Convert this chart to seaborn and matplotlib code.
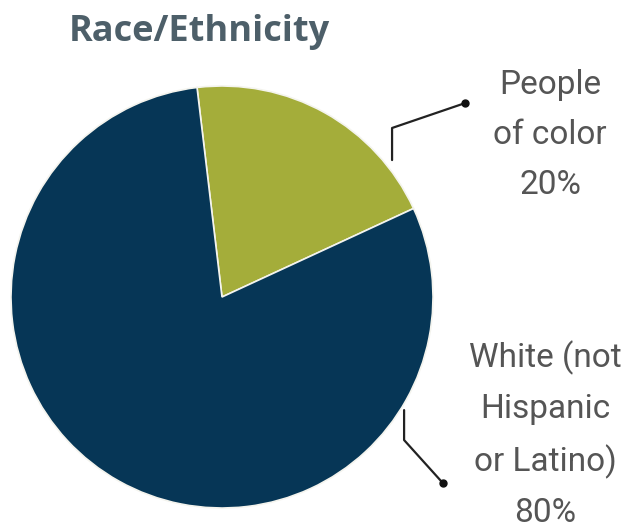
import seaborn as sns
import matplotlib.pyplot as plt

groups = ['People of color', 'White (not Hispanic or Latino)']
shares = [20, 80]
labels = ['People\nof color\n20%', 'White (not\nHispanic\nor Latino)\n80%']
colors = ['#a4ad3a', '#063656']

sns.set_theme(style='white')
plt.rcParams['font.family'] = ['Roboto', 'DejaVu Sans']

fig = plt.figure(figsize=(6.34, 5.30), dpi=100)
ax = fig.add_axes([11 / 634, 22 / 530, 422 / 634, 422 / 530])

ax.pie(shares, colors=colors, startangle=96.8, counterclock=False, radius=1,
       wedgeprops=dict(edgecolor='#f4f4ee', linewidth=1.2))
ax.set_xlim(-1, 1)
ax.set_ylim(-1, 1)
ax.set_aspect('equal')
ax.axis('off')

# leader lines
ax.plot([0.806, 0.806, 1.152], [0.649, 0.801, 0.919], color='#222222', lw=1.6, clip_on=False)
ax.plot([1.152], [0.919], 'o', color='#111111', ms=5, clip_on=False)
ax.plot([0.863, 0.863, 1.047], [-0.536, -0.678, -0.882], color='#222222', lw=1.6, clip_on=False)
ax.plot([1.047], [-0.882], 'o', color='#111111', ms=5, clip_on=False)

ax.text(1.555, 0.768, labels[0], ha='center', va='center', fontsize=24,
        color='#555555', linespacing=1.72, clip_on=False)
ax.text(1.531, -0.652, labels[1], ha='center', va='center', fontsize=24,
        color='#555555', linespacing=1.72, clip_on=False)

fig.text(199 / 634, 1 - 32 / 530, 'Race/Ethnicity', ha='center', va='center',
         fontsize=26, fontweight='bold', color='#4d5f69', family=['Open Sans', 'DejaVu Sans'])

fig.savefig('out.png', dpi=100)
